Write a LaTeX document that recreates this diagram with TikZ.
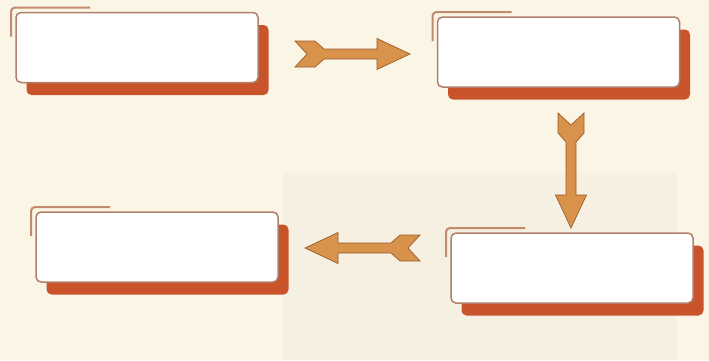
\documentclass[tikz,border=0pt]{standalone}
\usetikzlibrary{calc}
\definecolor{bgmain}{HTML}{FBF5E6}
\definecolor{bgpanel}{HTML}{F6F0E3}
\definecolor{shadowc}{HTML}{C9542B}
\definecolor{boxedge}{HTML}{B0806A}
\definecolor{cornerc}{HTML}{C28A6C}
\definecolor{arrowfill}{HTML}{D8924C}
\definecolor{arrowedge}{HTML}{9C5C2A}
\tikzset{
  box/.style={draw=boxedge, line width=1.5pt, fill=white, rounded corners=5pt,
    minimum width=242pt, minimum height=70pt, inner sep=0pt},
  boxshadow/.style={fill=shadowc, rounded corners=5pt},
  cornerline/.style={draw=cornerc, line width=2pt, rounded corners=4pt},
  arrowshape/.style={fill=arrowfill, draw=arrowedge, line width=0.7pt, line join=miter},
  farrow/.pic={
    \path[arrowshape] (12,0) -- (0,13) -- (20,13) -- (29,5) -- (82,5) -- (82,15.5)
      -- (115,0) -- (82,-15.5) -- (82,-5) -- (29,-5) -- (20,-13) -- (0,-13) -- cycle;
  }
}
\newcommand\fancybox[2]{%
  \fill[boxshadow] ($(#2)+(-121pt+10.5pt,35pt-12.5pt)$) rectangle ($(#2)+(121pt+10.5pt,-35pt-12.5pt)$);
  \draw[cornerline] ($(#2)+(-126pt,11pt)$) -- ($(#2)+(-126pt,40pt)$) -- ($(#2)+(-47pt,40pt)$);
  \node[box] (#1) at (#2) {};
}
\begin{document}
\begin{tikzpicture}[x=1pt,y=1pt]
\fill[bgmain] (0,0) rectangle (709,-360);
\fill[bgpanel] (283,-173) rectangle (677,-360);
\useasboundingbox (0,0) rectangle (709,-360);
\fancybox{b1}{137,-47.5}
\fancybox{b2}{558.5,-52}
\fancybox{b3}{572,-268}
\fancybox{b4}{157,-247}
\pic at (295,-54) {farrow};
\pic[rotate=-90] at (571,-113) {farrow};
\pic[rotate=180] at (420,-248) {farrow};
\end{tikzpicture}
\end{document}
